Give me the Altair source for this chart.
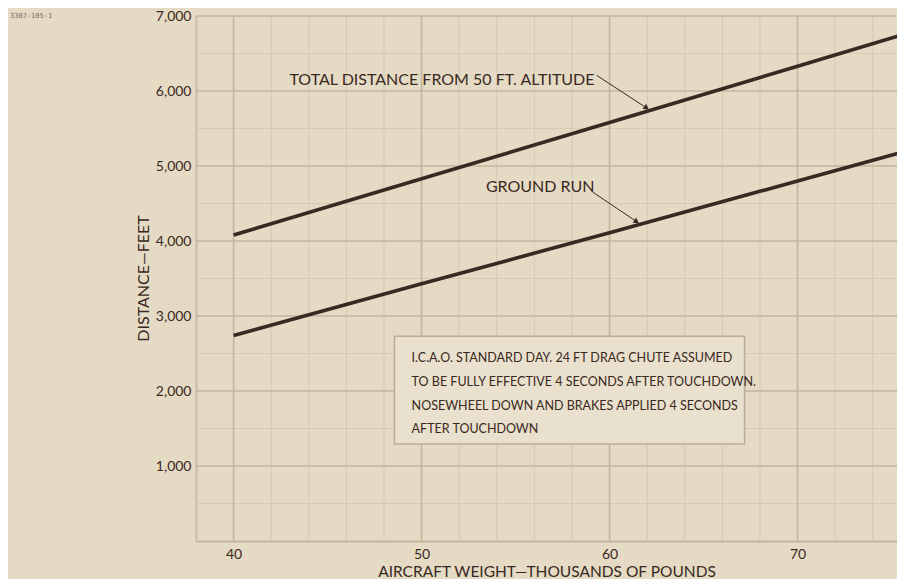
import altair as alt
import pandas as pd

# ---- data ----
weights = [40, 50, 60, 70, 80]                       # thousands of pounds
total_distance = [4080, 4830, 5580, 6330, 7080]      # ft, from 50 ft altitude
ground_run = [2740, 3430, 4110, 4800, 5490]          # ft

x_major = [40, 50, 60, 70]
x_minor = [38, 42, 44, 46, 48, 52, 54, 56, 58, 62, 64, 66, 68, 72, 74]
y_major = [1000, 2000, 3000, 4000, 5000, 6000, 7000]
y_minor = [500, 1500, 2500, 3500, 4500, 5500, 6500]

note_lines = [
    "I.C.A.O. STANDARD DAY. 24 FT DRAG CHUTE ASSUMED",
    "TO BE FULLY EFFECTIVE 4 SECONDS AFTER TOUCHDOWN.",
    "NOSEWHEEL DOWN AND BRAKES APPLIED 4 SECONDS",
    "AFTER TOUCHDOWN",
]

BG = "#e5dbc5"
INK = "#3a2823"
MINOR = "#d4c9b2"
MAJOR = "#c3b69d"
FONT = "Lato"

XD = [38, 75.29]
YD = [0, 7000]

xs = alt.Scale(domain=XD, nice=False, zero=False)
ys = alt.Scale(domain=YD, nice=False)

lines_df = pd.DataFrame({
    "w": weights * 2,
    "d": total_distance + ground_run,
    "series": ["TOTAL"] * len(weights) + ["GROUND"] * len(weights),
})

# grids
gx_minor = alt.Chart(pd.DataFrame({"v": x_minor})).mark_rule(color=MINOR, strokeWidth=1).encode(
    x=alt.X("v:Q", scale=xs))
gx_major = alt.Chart(pd.DataFrame({"v": x_major})).mark_rule(color=MAJOR, strokeWidth=1.6).encode(
    x=alt.X("v:Q", scale=xs))
gy_minor = alt.Chart(pd.DataFrame({"v": y_minor})).mark_rule(color=MINOR, strokeWidth=1).encode(
    y=alt.Y("v:Q", scale=ys))
gy_major = alt.Chart(pd.DataFrame({"v": y_major})).mark_rule(color=MAJOR, strokeWidth=1.6).encode(
    y=alt.Y("v:Q", scale=ys))

lines = alt.Chart(lines_df).mark_line(color=INK, strokeWidth=3.6, clip=True).encode(
    x=alt.X("w:Q", scale=xs,
            axis=alt.Axis(values=x_major, grid=False, ticks=False, domain=True,
                          domainColor=MAJOR, domainWidth=1.8, labelFont=FONT,
                          labelFontSize=14, labelColor=INK, labelPadding=6,
                          title="AIRCRAFT WEIGHT—THOUSANDS OF POUNDS",
                          titleFont=FONT, titleFontSize=15.5, titleFontWeight="normal",
                          titleColor=INK, titlePadding=3)),
    y=alt.Y("d:Q", scale=ys,
            axis=alt.Axis(values=y_major, grid=False, ticks=False, domain=True,
                          domainColor=MAJOR, domainWidth=1.8, labelFont=FONT,
                          labelFontSize=14, labelColor=INK, labelPadding=5,
                          format=",d",
                          title="DISTANCE—FEET", titleFont=FONT, titleFontSize=16,
                          titleFontWeight="normal", titleColor=INK,
                          titleX=-53, titleY=262, titleAngle=-90,
                          titleAlign="center", titleBaseline="middle")),
    detail="series:N",
)

# annotations
label_df = pd.DataFrame({
    "x": [59.2, 59.2],
    "y": [6143, 4719],
    "t": ["TOTAL DISTANCE FROM 50 FT. ALTITUDE", "GROUND RUN"],
})
labels = alt.Chart(label_df).mark_text(align="right", baseline="middle", font=FONT,
                                       fontSize=16, color=INK).encode(
    x=alt.X("x:Q", scale=xs), y=alt.Y("y:Q", scale=ys), text="t:N")

arrow_df = pd.DataFrame({
    "x": [59.31, 59.10], "y": [6209, 4653],
    "x2": [61.97, 61.44], "y2": [5774, 4258],
})
arrows = alt.Chart(arrow_df).mark_rule(color=INK, strokeWidth=1).encode(
    x=alt.X("x:Q", scale=xs), y=alt.Y("y:Q", scale=ys), x2="x2:Q", y2="y2:Q")
heads = alt.Chart(arrow_df).mark_point(shape="triangle-right", filled=True, color=INK,
                                       size=40, angle=34, opacity=1).encode(
    x=alt.X("x2:Q", scale=xs), y=alt.Y("y2:Q", scale=ys))

box_df = pd.DataFrame({"x": [48.56], "x2": [67.18], "y": [2729], "y2": [1292]})
box = alt.Chart(box_df).mark_rect(fill="#e9e1cd", stroke="#b9ad96", strokeWidth=1.5).encode(
    x=alt.X("x:Q", scale=xs), x2="x2:Q", y=alt.Y("y:Q", scale=ys), y2="y2:Q")

note_df = pd.DataFrame({
    "x": [49.47] * 4,
    "y": [2439, 2122, 1806, 1490],
    "t": note_lines,
})
note = alt.Chart(note_df).mark_text(align="left", baseline="middle", font=FONT,
                                    fontSize=12.5, color=INK).encode(
    x=alt.X("x:Q", scale=xs), y=alt.Y("y:Q", scale=ys), text="t:N")

code = alt.Chart(pd.DataFrame({"t": ["3307-105-1"]})).mark_text(
    align="left", baseline="middle", font="DejaVu Sans Mono", fontSize=7, color="#7a6e66").encode(
    x=alt.value(-186), y=alt.value(0), text="t:N")

chart = alt.layer(gx_minor, gy_minor, gx_major, gy_major, box, note, lines,
                  arrows, heads, labels, code).properties(
    width=701, height=525,
    autosize=alt.AutoSizeParams(type="none"),
    padding={"left": 188, "top": 8, "right": 0, "bottom": 38},
    background=BG,
).configure_view(stroke=None)

chart.save("out.html", embed_options={"renderer": "svg", "actions": False})
